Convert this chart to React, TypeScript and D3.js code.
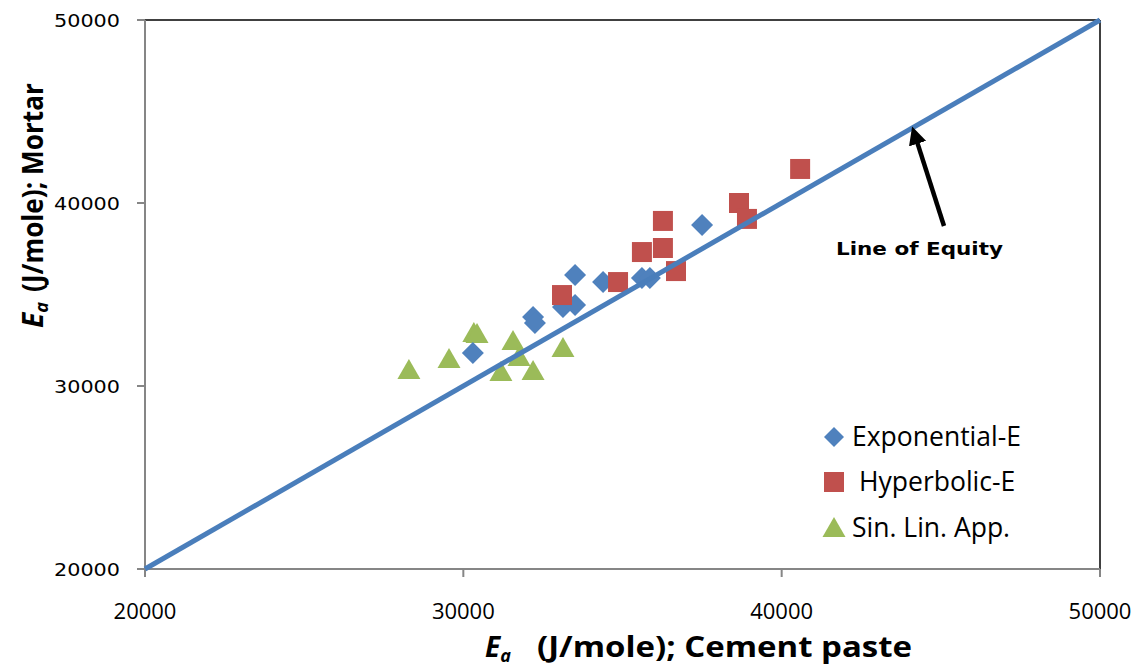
import React from "react";
import * as d3 from "d3";

const expX = [30300, 32190, 32250, 33130, 33510, 33510, 34390, 35610, 35860, 37500];
const expY = [31800, 33770, 33440, 34320, 34430, 36070, 35680, 35900, 35900, 38800];
const hypX = [33100, 34860, 35610, 36270, 36270, 36680, 38660, 38910, 40580];
const hypY = [34970, 35680, 37320, 37540, 39020, 36280, 40000, 39130, 41860];
const sinX = [28290, 29550, 30330, 30430, 31560, 31750, 31180, 32190, 33130];
const sinY = [30870, 31480, 32900, 32840, 32460, 31590, 30770, 30820, 32080];
const equityX = [20000, 50000];
const equityY = [20000, 50000];
const xTicks = [20000, 30000, 40000, 50000];
const yTicks = [20000, 30000, 40000, 50000];
const legendLabels = ["Exponential-E", "Hyperbolic-E", "Sin. Lin. App."];
const legendOffsets = [0, 7, 0];

const W = 1142, H = 670;
const L = 145, R = 1100, T = 20, B = 569;

export default function App() {
  const x = d3.scaleLinear().domain([20000, 50000]).range([L, R]);
  const y = d3.scaleLinear().domain([20000, 50000]).range([B, T]);
  const blue = "#4F81BD", red = "#C0504D", green = "#9BBB59";
  const lineGen = d3.line<number>().x((_, i) => x(equityX[i])).y((v) => y(v));

  const diamond = (cx: number, cy: number, r = 11) =>
    `M${cx},${cy - r}L${cx + r},${cy}L${cx},${cy + r}L${cx - r},${cy}Z`;
  const square = (cx: number, cy: number, s = 20) =>
    `M${cx - s / 2},${cy - s / 2}h${s}v${s}h${-s}Z`;
  const tri = (cx: number, cy: number) =>
    `M${cx},${cy - 11}L${cx + 11.5},${cy + 9}L${cx - 11.5},${cy + 9}Z`;

  const legendY = [437, 482, 528];

  return (
    <svg width={W} height={H} style={{ position: "absolute", left: 0, top: 0, background: "#fff" }}>
      <rect x={0} y={0} width={W} height={H} fill="#fff" />
      {/* frame */}
      <line x1={L} y1={T} x2={R} y2={T} stroke="#000" strokeWidth={1.5} />
      <line x1={R} y1={T} x2={R} y2={B} stroke="#000" strokeWidth={1.5} />
      <line x1={L} y1={T} x2={L} y2={B} stroke="#868686" strokeWidth={2} />
      <line x1={L} y1={B} x2={R} y2={B} stroke="#868686" strokeWidth={2} />
      {yTicks.map((t) => (
        <g key={"y" + t}>
          <line x1={L - 8} x2={L} y1={y(t)} y2={y(t)} stroke="#868686" strokeWidth={2} />
          <text x={120} y={y(t) + 7} textAnchor="end" fontFamily="DejaVu Sans" fontSize={18.5}
            textLength={66} lengthAdjust="spacingAndGlyphs" fill="#000">{t}</text>
        </g>
      ))}
      {xTicks.map((t) => (
        <g key={"x" + t}>
          <line x1={x(t)} x2={x(t)} y1={B} y2={B + 8} stroke="#868686" strokeWidth={2} />
          <text x={x(t)} y={619} textAnchor="middle" fontFamily="Open Sans" fontSize={22} fill="#000">{t}</text>
        </g>
      ))}
      {/* axis titles */}
      <text x={485} y={657} fontFamily="Open Sans" fontWeight="bold" fontSize={28} fill="#000">
        <tspan fontStyle="italic">E</tspan>
        <tspan fontStyle="italic" fontSize={18} dy={5}>a</tspan>
        <tspan x={537} dy={-5} textLength={375} lengthAdjust="spacingAndGlyphs">(J/mole); Cement paste</tspan>
      </text>
      <text transform="translate(43,328) rotate(-90)" fontFamily="Open Sans" fontWeight="bold" fontSize={28} fill="#000">
        <tspan fontStyle="italic">E</tspan>
        <tspan fontStyle="italic" fontSize={18} dy={5}>a</tspan>
        <tspan x={36} dy={-5} textLength={209} lengthAdjust="spacingAndGlyphs">(J/mole); Mortar</tspan>
      </text>
      {/* points */}
      {sinX.map((v, i) => (
        <path key={"s" + i} d={tri(x(v), y(sinY[i]))} fill={green} />
      ))}
      {expX.map((v, i) => (
        <path key={"e" + i} d={diamond(x(v), y(expY[i]))} fill={blue} />
      ))}
      {hypX.map((v, i) => (
        <path key={"h" + i} d={square(x(v), y(hypY[i]))} fill={red} />
      ))}
      {/* line of equity */}
      <path d={lineGen(equityY) || ""} stroke="#4A7EBB" strokeWidth={5} fill="none" />
      {/* annotation */}
      <defs>
        <marker id="ah" viewBox="0 0 10 10" refX={7} refY={5} markerWidth={4} markerHeight={4} orient="auto">
          <path d="M0,0L10,5L0,10Z" fill="#000" />
        </marker>
      </defs>
      <line x1={x(45100)} y1={y(38740)} x2={x(44150)} y2={y(43900)} stroke="#000" strokeWidth={4.5} markerEnd="url(#ah)" />
      <text x={836} y={255} fontFamily="DejaVu Sans" fontWeight="bold" fontSize={17} fill="#000"
        textLength={167} lengthAdjust="spacingAndGlyphs">Line of Equity</text>
      {/* legend */}
      <path d={diamond(834, legendY[0], 10)} fill={blue} />
      <path d={square(834, legendY[1], 20)} fill={red} />
      <path d={tri(834, legendY[2])} fill={green} />
      {legendLabels.map((l, i) => (
        <text key={l} x={852 + legendOffsets[i]} y={legendY[i] + 9} fontFamily="Open Sans" fontSize={26.5} fill="#000">{l}</text>
      ))}
    </svg>
  );
}
